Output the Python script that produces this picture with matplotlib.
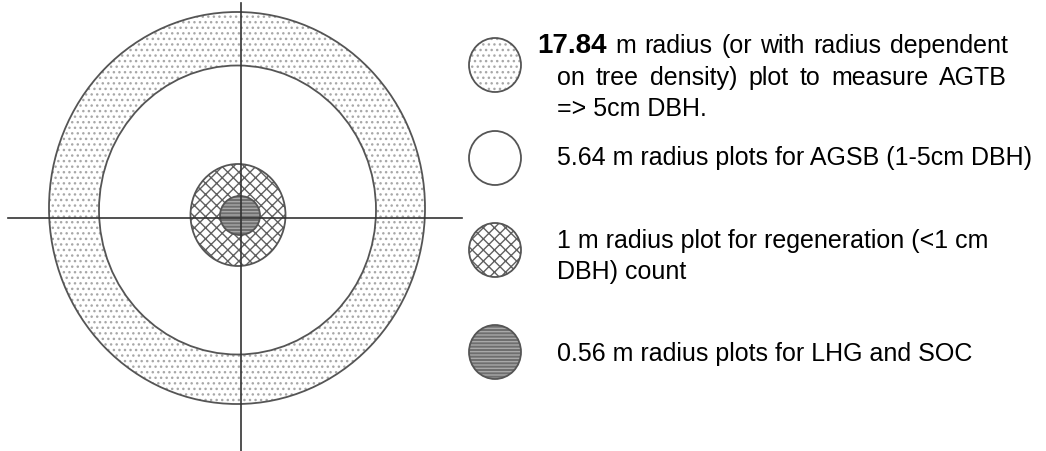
import matplotlib.pyplot as plt
from matplotlib.patches import Ellipse

plt.rcParams['font.family'] = ['Liberation Sans', 'DejaVu Sans']
plt.rcParams['hatch.linewidth'] = 1.0

# nested sampling plots (radius in m) and their legend texts
plot_radius = ['17.84', '5.64', '1', '0.56']
legend_lines = [
    ['m radius (or with radius dependent', 'on tree density) plot to measure AGTB', '=> 5cm DBH.'],
    ['5.64 m radius plots for AGSB (1-5cm DBH)'],
    ['1 m radius plot for regeneration (<1 cm', 'DBH) count'],
    ['0.56 m radius plots for LHG and SOC'],
]

# schematic drawing (pixel units, not to scale)
ring_center = [(237, 209), (237.5, 211), (238, 216), (240, 216.5)]
ring_size = [(376, 392), (277, 289), (95, 102), (40, 39)]
styles = [
    dict(face='white', hatch='...', hcol='#a8a8a8'),
    dict(face='white', hatch=None, hcol='white'),
    dict(face='white', hatch='xxx', hcol='#606060'),
    dict(face='#6e6e6e', hatch='-----', hcol='#a8a8a8'),
]
outline = '#555555'

fig = plt.figure(figsize=(10.46, 4.52), dpi=100)
ax = fig.add_axes([0, 0, 1, 1])
ax.set_xlim(0, 1046)
ax.set_ylim(452, 0)
ax.axis('off')


def disc(cx, cy, w, h, st, z):
    ax.add_patch(Ellipse((cx, cy), w, h, facecolor=st['face'], edgecolor=st['hcol'],
                         hatch=st['hatch'], lw=0, zorder=z))
    ax.add_patch(Ellipse((cx, cy), w, h, facecolor='none', edgecolor=outline,
                         lw=1.3, zorder=z + 0.5))


def justified(x0, x1, y, line):
    # spread the words so the line ends at x1, like the justified source text
    words = line.split()
    texts = [ax.text(0, y, w, fontsize=18, va='baseline', ha='left') for w in words]
    r = fig.canvas.get_renderer()
    widths = [t.get_window_extent(r).width for t in texts]
    gap = (x1 - x0 - sum(widths)) / (len(words) - 1)
    x = x0
    for t, w in zip(texts, widths):
        t.set_x(x)
        x += w + gap


for i, st in enumerate(styles):
    (cx, cy), (w, h) = ring_center[i], ring_size[i]
    disc(cx, cy, w, h, st, 2 + i)

# crosshair
ax.plot([8, 462], [218.5, 218.5], color='#333333', lw=1.2, zorder=10)
ax.plot([240.5, 240.5], [4, 452], color='#333333', lw=1.2, zorder=10)

# legend
leg_y = [66, 159, 251, 353]
text_base = [[53, 85, 116], [165], [248, 279], [361]]
for i, st in enumerate(styles):
    disc(495, leg_y[i], 52, 54, st, 2)
    for j, line in enumerate(legend_lines[i]):
        if i == 0 and j == 0:
            ax.text(537, text_base[i][j], plot_radius[0], fontsize=20, fontweight='bold',
                    va='baseline', ha='left', color='black')
            justified(615, 1008, text_base[i][j], line)
        elif i == 0 and j == 1:
            justified(557, 1007, text_base[i][j], line)
        else:
            ax.text(557, text_base[i][j], line, fontsize=18, va='baseline', ha='left',
                    color='black')

plt.savefig('out.png', dpi=100)
